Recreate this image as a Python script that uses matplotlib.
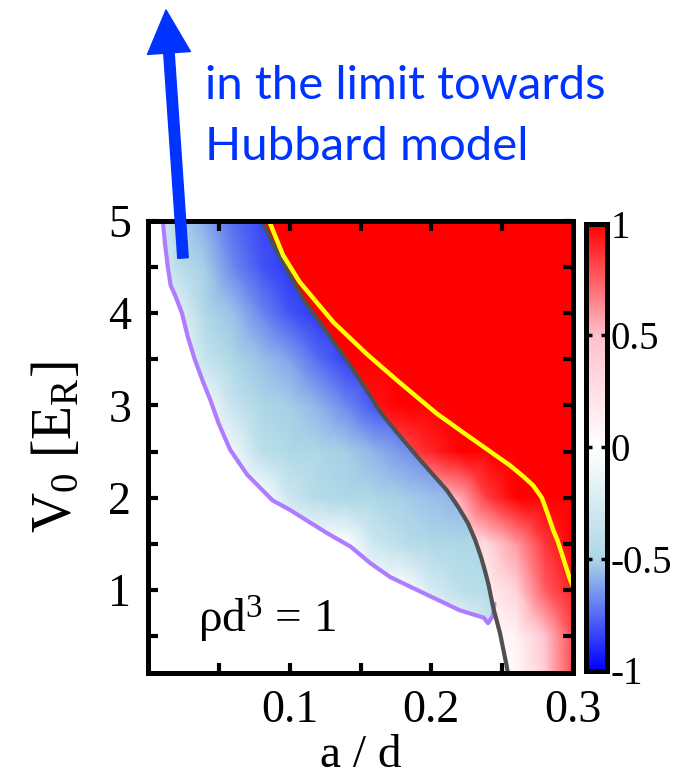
import numpy as np
import matplotlib
matplotlib.use("Agg")
import matplotlib.pyplot as plt
from matplotlib.colors import LinearSegmentedColormap, Normalize
from matplotlib.patches import Polygon
from matplotlib.cm import ScalarMappable

plt.rcParams['font.family'] = 'Liberation Serif'
plt.rcParams['mathtext.fontset'] = 'custom'
plt.rcParams['mathtext.rm'] = 'Liberation Serif'
plt.rcParams['axes.unicode_minus'] = False

# boundary lines: (a/d, V0)
purple_x = [0.0105, 0.012, 0.014, 0.016, 0.019, 0.024, 0.028, 0.033, 0.039, 0.044,
            0.050, 0.058, 0.070, 0.088, 0.100, 0.126, 0.143, 0.157, 0.171, 0.194,
            0.220, 0.237, 0.240, 0.2435, 0.2445]
purple_v = [5.0, 4.75, 4.5, 4.3, 4.2, 4.0, 3.75, 3.5, 3.25, 3.06,
            2.8, 2.52, 2.25, 1.97, 1.87, 1.62, 1.47, 1.29, 1.14, 0.97,
            0.78, 0.70, 0.64, 0.72, 0.85]

gray_x = [0.0795, 0.0805, 0.088, 0.1003, 0.1095, 0.119, 0.1426, 0.157, 0.164, 0.175,
          0.192, 0.211, 0.219, 0.226, 0.231, 0.235, 0.238, 0.2405, 0.2435, 0.2485,
          0.253, 0.254]
gray_v = [5.05, 5.0, 4.76, 4.41, 4.15, 3.95, 3.44, 3.1, 2.93, 2.72,
          2.41, 2.08, 1.9, 1.72, 1.54, 1.36, 1.2, 1.05, 0.82, 0.53,
          0.19, 0.1]

yellow_x = [0.0855, 0.0953, 0.107, 0.131, 0.155, 0.176, 0.204, 0.225, 0.2435,
            0.2555, 0.265, 0.272, 0.278, 0.282, 0.286, 0.289, 0.293, 0.298, 0.300]
yellow_v = [5.0, 4.63, 4.34, 3.9, 3.55, 3.27, 2.91, 2.68, 2.48,
            2.35, 2.23, 2.13, 2.0, 1.83, 1.65, 1.54, 1.35, 1.11, 1.04]

# coarse grid of the colour field
grid_x = [0.00, 0.02, 0.04, 0.06, 0.08, 0.10, 0.12, 0.14,
          0.16, 0.18, 0.20, 0.22, 0.24, 0.26, 0.28, 0.30]
grid_v = [0.1, 0.5, 1.0, 1.5, 2.0, 2.5, 3.0, 3.5, 4.0, 4.5, 5.0]

# values inside the band between the purple and grey lines
blue_vals = [
    [0, 0, 0, 0, 0, 0, 0, 0, 0, 0, 0, 0, -0.3, -0.4, -0.4, -0.4],
    [0, 0, 0, 0, 0, 0, 0, 0, 0, 0, 0, 0, -0.3, -0.4, -0.4, -0.4],
    [0, 0, 0, 0, 0, 0, 0, 0, 0, 0, -0.25, -0.4, -0.45, -0.45, -0.45, -0.45],
    [0, 0, 0, 0, 0, 0, 0, 0, -0.3, -0.42, -0.48, -0.5, -0.5, -0.5, -0.5, -0.5],
    [0, 0, 0, 0, 0, -0.3, -0.45, -0.5, -0.5, -0.52, -0.55, -0.58, -0.58, -0.58, -0.58, -0.58],
    [0, 0, 0, -0.1, -0.4, -0.48, -0.5, -0.52, -0.58, -0.65, -0.7, -0.7, -0.7, -0.7, -0.7, -0.7],
    [0, 0, -0.05, -0.35, -0.5, -0.52, -0.58, -0.68, -0.8, -0.8, -0.8, -0.8, -0.8, -0.8, -0.8, -0.8],
    [0, 0, -0.35, -0.5, -0.55, -0.62, -0.75, -0.85, -0.85, -0.85, -0.85, -0.85, -0.85, -0.85, -0.85, -0.85],
    [0, -0.15, -0.48, -0.55, -0.68, -0.8, -0.87, -0.87, -0.87, -0.87, -0.87, -0.87, -0.87, -0.87, -0.87, -0.87],
    [-0.05, -0.4, -0.52, -0.68, -0.8, -0.87, -0.87, -0.87, -0.87, -0.87, -0.87, -0.87, -0.87, -0.87, -0.87, -0.87],
    [-0.2, -0.45, -0.6, -0.75, -0.83, -0.85, -0.85, -0.85, -0.85, -0.85, -0.85, -0.85, -0.85, -0.85, -0.85, -0.85],
]

# values right of the grey line
red_vals = [
    [0, 0, 0, 0, 0, 0, 0, 0, 0, 0, 0, 0, 0.0, 0.05, 0.4, 0.8],
    [0, 0, 0, 0, 0, 0, 0, 0, 0, 0, 0, 0, 0.05, 0.1, 0.45, 0.8],
    [0, 0, 0, 0, 0, 0, 0, 0, 0, 0, 0, 0.15, 0.15, 0.35, 0.75, 0.92],
    [0, 0, 0, 0, 0, 0, 0, 0, 0, 0, 0.3, 0.3, 0.3, 0.6, 0.85, 1.0],
    [0, 0, 0, 0, 0, 0, 0, 0, 0, 0.5, 0.5, 0.55, 0.85, 1, 1, 1],
    [0, 0, 0, 0, 0, 0, 0, 0, 0.8, 0.8, 0.9, 1, 1, 1, 1, 1],
    [0, 0, 0, 0, 0, 0, 0, 0.95, 0.95, 1, 1, 1, 1, 1, 1, 1],
    [1] * 16,
    [1] * 16,
    [1] * 16,
    [1] * 16,
]

cbar_ticks = [-1, -0.5, 0, 0.5, 1]
cbar_labels = ['-1', '-0.5', '0', '0.5', '1']

cmap = LinearSegmentedColormap.from_list(
    'bwr_gp', [(0.0, '#0000ff'), (0.25, '#add8e6'), (0.5, '#ffffff'),
               (0.75, '#ffc0cb'), (1.0, '#ff0000')])
norm = Normalize(-1, 1)

fig = plt.figure(figsize=(6.79, 7.81), dpi=100)
ax = fig.add_axes([148 / 679, 108 / 781, 425 / 679, 452 / 781])
cax = fig.add_axes([585.5 / 679, 110.5 / 781, 21 / 679, 447 / 781])

X, Y = np.meshgrid(grid_x, grid_v)

band = Polygon(list(zip(purple_x, purple_v)) + list(zip(gray_x, gray_v))[::-1]
               + [(0.0795, 5.2), (0.0105, 5.2)],
               closed=True, transform=ax.transData)
right = Polygon(list(zip(gray_x, gray_v)) + [(0.254, 0.0), (0.31, 0.0),
                                             (0.31, 5.2), (0.0795, 5.2)],
                closed=True, transform=ax.transData)

m1 = ax.pcolormesh(X, Y, np.array(blue_vals), cmap=cmap, norm=norm, shading='gouraud')
m1.set_clip_path(band)
m2 = ax.pcolormesh(X, Y, np.array(red_vals), cmap=cmap, norm=norm, shading='gouraud')
m2.set_clip_path(right)

ax.plot(purple_x, purple_v, color='#b07cff', lw=3, solid_capstyle='round')
ax.plot(gray_x, gray_v, color='#505050', lw=3)
ax.plot(yellow_x, yellow_v, color='#ffff00', lw=3.2)

ax.set_xlim(0, 0.3)
ax.set_ylim(0.1, 5)
ax.set_xticks([0.1, 0.2, 0.3])
ax.set_xticklabels(['0.1', '0.2', '0.3'])
ax.set_xticks([0.05, 0.15, 0.25], minor=True)
ax.set_yticks([1, 2, 3, 4, 5])
ax.set_yticklabels(['1', '2', '3', '4', '5'])
ax.set_yticks([0.5, 1.5, 2.5, 3.5, 4.5], minor=True)
ax.tick_params(which='both', direction='in', length=7, width=3,
               top=True, right=True, labelsize=33, pad=12)
for s in ax.spines.values():
    s.set_linewidth(3.6)
    s.set_zorder(5)

ax.set_xlabel('a / d', fontsize=34, labelpad=2)
ax.set_ylabel(r'V$\mathregular{_0}$ [E$\mathregular{_R}$]', fontsize=40, labelpad=18)

ax.text(0.035, 0.54, r'ρd$\mathregular{^3}$ = 1', fontsize=34, ha='left', va='baseline')

cb = fig.colorbar(ScalarMappable(norm=norm, cmap=cmap), cax=cax)
cb.set_ticks(cbar_ticks)
cb.set_ticklabels(cbar_labels)
cb.outline.set_linewidth(3.6)
cax.tick_params(direction='in', length=4, width=2.5, left=True, right=True,
                labelsize=28, pad=3)

# arrow and note
ax.annotate('', xy=(166, 771), xytext=(183, 523), xycoords='figure pixels',
            textcoords='figure pixels', annotation_clip=False, zorder=20,
            arrowprops=dict(arrowstyle='simple,head_length=3.1,head_width=3.1,tail_width=0.75',
                            mutation_scale=10, color='#0033ff', shrinkA=0, shrinkB=0))
fig.text(205 / 679, 1 - 99 / 781, 'in the limit towards', color='#0033ff',
         fontsize=34, family='Lato', va='baseline')
fig.text(205 / 679, 1 - 160 / 781, 'Hubbard model', color='#0033ff',
         fontsize=34, family='Lato', va='baseline')

fig.savefig('out.png', dpi=100)
